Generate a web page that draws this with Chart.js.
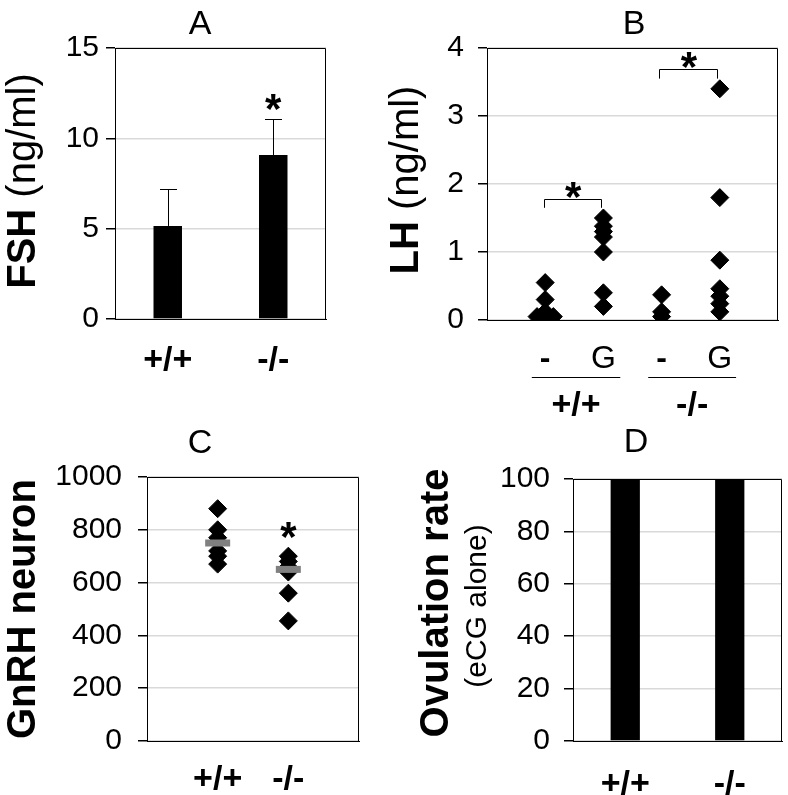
<!DOCTYPE html>
<html>
<head>
<meta charset="utf-8">
<script src="https://cdn.jsdelivr.net/npm/chart.js@4.4.1/dist/chart.umd.min.js"></script>
<style>
    body { margin: 0; background: #fff; width: 788px; height: 795px; position: relative; overflow: hidden; }
    canvas { position: absolute; }
</style>
</head>
<body>
<canvas id="chartA" width="394" height="400" style="left:0;top:0"></canvas>
<canvas id="chartB" width="408" height="420" style="left:380px;top:0"></canvas>
<canvas id="chartC" width="394" height="395" style="left:0;top:400px"></canvas>
<canvas id="chartD" width="394" height="375" style="left:394px;top:420px"></canvas>
<script>
// Panel A - FSH, mean + SD
const genotypes = ['+/+', '-/-'];
const fshMeans = [5.15, 9.08];
const fshErrors = [2.05, 2.0];

// Panel B - LH, individual animals (basal "-" vs GnRH "G")
const lhTreatments = ['-', 'G', '-', 'G'];
const lhWtBasal = [0.55, 0.3, 0.12, 0.05, 0.04, 0.05];
const lhWtBasalJitter = [0, 0, 0, -0.14, 0, 0.14];
const lhWtGnrh = [1.5, 1.38, 1.3, 1.22, 1.0, 0.4, 0.2];
const lhKoBasal = [0.37, 0.12, 0.05];
const lhKoGnrh = [3.4, 1.8, 0.88, 0.46, 0.35, 0.24, 0.12];

// Panel C - GnRH neuron counts
const gnrhWt = [880, 800, 770, 720, 700, 670];
const gnrhKo = [700, 680, 660, 640, 560, 455];
const gnrhMeans = [750, 650];

// Panel D - ovulation rate
const ovulationRate = [100, 100];

const FONT = 'Arial, "Liberation Sans", sans-serif';
const TICK_FONT = { family: FONT, size: 30 };
const LABEL_FONT = { family: FONT, size: 34, weight: 'bold' };
const STAR = 42;

// draws frame, panel letters, rotated axis titles, error bars, brackets and stars
const panelDecor = {
    id: 'panelDecor',
    afterDatasetsDraw(chart, args, o) {
        const { ctx, chartArea: a } = chart;
        const xs = chart.scales.x, ys = chart.scales.y;
        ctx.save();
        ctx.fillStyle = '#000';
        ctx.strokeStyle = '#000';
        ctx.lineWidth = 1;

        // top + right of the box
        const t = Math.round(a.top) + 0.5, r = Math.round(a.right) - 0.5;
        ctx.beginPath();
        ctx.moveTo(a.left, t);
        ctx.lineTo(r, t);
        ctx.lineTo(r, a.bottom);
        ctx.stroke();

        // error bars (upwards only)
        if (o.means) {
            o.means.forEach((m, i) => {
                const px = Math.round(xs.getPixelForValue(i)) + 0.5;
                const y0 = ys.getPixelForValue(m);
                const y1 = Math.round(ys.getPixelForValue(m + o.errors[i])) + 0.5;
                ctx.beginPath();
                ctx.moveTo(px, y0);
                ctx.lineTo(px, y1);
                ctx.moveTo(px - 8.5, y1);
                ctx.lineTo(px + 8.5, y1);
                ctx.stroke();
            });
        }

        // significance brackets
        (o.brackets || []).forEach(b => {
            const x1 = Math.round(xs.getPixelForValue(b.from)) + 0.5;
            const x2 = Math.round(xs.getPixelForValue(b.to)) + 0.5;
            const yt = Math.round(ys.getPixelForValue(b.top)) + 0.5;
            const yl = ys.getPixelForValue(b.leg);
            ctx.beginPath();
            ctx.moveTo(x1, yl);
            ctx.lineTo(x1, yt);
            ctx.lineTo(x2, yt);
            ctx.lineTo(x2, yl);
            ctx.stroke();
        });

        // asterisks
        ctx.font = 'bold ' + STAR + 'px ' + FONT;
        ctx.textAlign = 'center';
        ctx.textBaseline = 'alphabetic';
        (o.stars || []).forEach(s => {
            ctx.fillText('*', xs.getPixelForValue(s.x), ys.getPixelForValue(s.y) + 0.57 * STAR);
        });

        // group labels under the tick labels (panel B)
        (o.groups || []).forEach(g => {
            const x1 = xs.getPixelForValue(g.from), x2 = xs.getPixelForValue(g.to);
            const ly = Math.round(a.bottom + o.groupLine) + 0.5;
            ctx.beginPath();
            ctx.moveTo(x1, ly);
            ctx.lineTo(x2, ly);
            ctx.stroke();
            ctx.font = 'bold 34px ' + FONT;
            ctx.textBaseline = 'middle';
            ctx.fillText(g.label, (x1 + x2) / 2, a.bottom + o.groupText);
        });

        // panel letter
        ctx.font = '34px ' + FONT;
        ctx.textAlign = 'center';
        ctx.textBaseline = 'middle';
        ctx.fillText(o.letter, o.letterAt[0], o.letterAt[1]);

        // rotated y titles, made of bold / regular parts
        (o.yTitles || []).forEach(yt => {
            ctx.save();
            ctx.translate(yt.x, yt.y);
            ctx.rotate(-Math.PI / 2);
            ctx.textAlign = 'left';
            ctx.textBaseline = 'alphabetic';
            const widths = yt.parts.map(p => { ctx.font = p[1]; return ctx.measureText(p[0]).width; });
            let cx = -widths.reduce((s, w) => s + w, 0) / 2;
            yt.parts.forEach((p, i) => {
                ctx.font = p[1];
                ctx.fillText(p[0], cx, 0);
                cx += widths[i];
            });
            ctx.restore();
        });
        ctx.restore();
    }
};

// y axis with outside ticks and light grid
function yAxis(max, step, pad, width) {
    return {
        min: 0,
        max: max,
        ticks: { stepSize: step, padding: pad, color: '#000', font: TICK_FONT, callback: v => String(v) },
        grid: { color: '#d9d9d9', lineWidth: 1.5, tickColor: '#000', tickLength: 9 },
        border: { color: '#000' },
        afterFit: s => { s.width = width; }
    };
}

function baseOptions(area, canvasW, decor) {
    return {
        responsive: false,
        animation: false,
        layout: { padding: { left: 0, top: area.top, right: canvasW - area.right, bottom: 0 } },
        plugins: { legend: { display: false }, tooltip: { enabled: false }, panelDecor: decor }
    };
}

// A - FSH bars
const optA = baseOptions({ top: 48, right: 326 }, 394, {
    letter: 'A', letterAt: [200, 25],
    yTitles: [{ x: 35, y: 181, parts: [['FSH ', 'bold 40px ' + FONT], ['(ng/ml)', '40px ' + FONT]] }],
    means: fshMeans, errors: fshErrors,
    stars: [{ x: 1, y: 12.2 }]
});
optA.scales = {
    x: {
        grid: { display: false }, border: { color: '#000' },
        ticks: { color: '#000', font: LABEL_FONT, padding: 13 },
        afterFit: s => { s.height = 400 - 319; }
    },
    y: yAxis(15, 5, 7, 115)
};
new Chart(document.getElementById('chartA'), {
    type: 'bar',
    data: {
        labels: genotypes,
        datasets: [{ data: fshMeans, backgroundColor: '#000', categoryPercentage: 1, barPercentage: 0.27 }]
    },
    options: optA,
    plugins: [panelDecor]
});

// B - LH scatter
const diamond = { pointStyle: 'rectRot', pointRadius: 9, backgroundColor: '#000', borderColor: '#000', borderWidth: 1 };
const optB = baseOptions({ top: 48, right: 400 }, 408, {
    letter: 'B', letterAt: [254, 25],
    yTitles: [{ x: 38, y: 180, parts: [['LH ', 'bold 40px ' + FONT], ['(ng/ml)', '40px ' + FONT]] }],
    brackets: [{ from: 0.98, to: 1.96, top: 1.78, leg: 1.65 }, { from: 2.96, to: 3.96, top: 3.69, leg: 3.55 }],
    stars: [{ x: 1.48, y: 1.96 }, { x: 3.47, y: 3.87 }],
    groups: [{ from: 0.77, to: 2.29, label: genotypes[0] }, { from: 2.77, to: 4.28, label: genotypes[1] }],
    groupLine: 57, groupText: 86
});
optB.scales = {
    x: {
        type: 'linear', min: 0, max: 5,
        grid: { display: false }, border: { color: '#000' },
        afterBuildTicks: s => { s.ticks = lhTreatments.map((t, i) => ({ value: i + 1 })); },
        ticks: {
            color: '#000', padding: 12,
            font: c => ({ family: FONT, size: 32, weight: lhTreatments[c.index] === '-' ? 'bold' : 'normal' }),
            callback: (v, i) => lhTreatments[i]
        },
        afterFit: s => { s.height = 420 - 320; }
    },
    y: yAxis(4, 1, 14, 107)
};
new Chart(document.getElementById('chartB'), {
    type: 'scatter',
    data: {
        datasets: [
            { data: lhWtBasal.map((v, i) => ({ x: 1 + lhWtBasalJitter[i], y: v })), ...diamond },
            { data: lhWtGnrh.map(v => ({ x: 2, y: v })), ...diamond },
            { data: lhKoBasal.map(v => ({ x: 3, y: v })), ...diamond },
            { data: lhKoGnrh.map(v => ({ x: 4, y: v })), ...diamond }
        ]
    },
    options: optB,
    plugins: [panelDecor]
});

// C - GnRH neuron counts
const optC = baseOptions({ top: 77, right: 359 }, 394, {
    letter: 'C', letterAt: [200, 44],
    yTitles: [{ x: 35, y: 209, parts: [['GnRH neuron', 'bold 40px ' + FONT]] }],
    stars: [{ x: 2, y: 810 }]
});
optC.scales = {
    x: {
        type: 'linear', min: 0, max: 3,
        grid: { display: false }, border: { color: '#000' },
        afterBuildTicks: s => { s.ticks = genotypes.map((g, i) => ({ value: i + 1 })); },
        ticks: { color: '#000', font: LABEL_FONT, padding: 10, callback: (v, i) => genotypes[i] },
        afterFit: s => { s.height = 395 - 341; }
    },
    y: yAxis(1000, 200, 16, 147)
};
new Chart(document.getElementById('chartC'), {
    type: 'scatter',
    data: {
        datasets: [
            { data: gnrhMeans.map((v, i) => ({ x: i + 1, y: v })), pointStyle: 'line', pointRadius: 12.5, borderWidth: 7, borderColor: '#808080' },
            { data: gnrhWt.map(v => ({ x: 1, y: v })), ...diamond },
            { data: gnrhKo.map(v => ({ x: 2, y: v })), ...diamond }
        ]
    },
    options: optC,
    plugins: [panelDecor]
});

// D - ovulation rate bars
const optD = baseOptions({ top: 59, right: 388 }, 394, {
    letter: 'D', letterAt: [242, 23],
    yTitles: [
        { x: 54, y: 183, parts: [['Ovulation rate', 'bold 40px ' + FONT]] },
        { x: 92, y: 186, parts: [['(eCG alone)', '30px ' + FONT]] }
    ]
});
optD.scales = {
    x: {
        grid: { display: false }, border: { color: '#000' },
        ticks: { color: '#000', font: LABEL_FONT, padding: 15 },
        afterFit: s => { s.height = 375 - 321; }
    },
    y: yAxis(100, 20, 14, 179)
};
new Chart(document.getElementById('chartD'), {
    type: 'bar',
    data: {
        labels: genotypes,
        datasets: [{ data: ovulationRate, backgroundColor: '#000', categoryPercentage: 1, barPercentage: 0.28 }]
    },
    options: optD,
    plugins: [panelDecor]
});
</script>
</body>
</html>
